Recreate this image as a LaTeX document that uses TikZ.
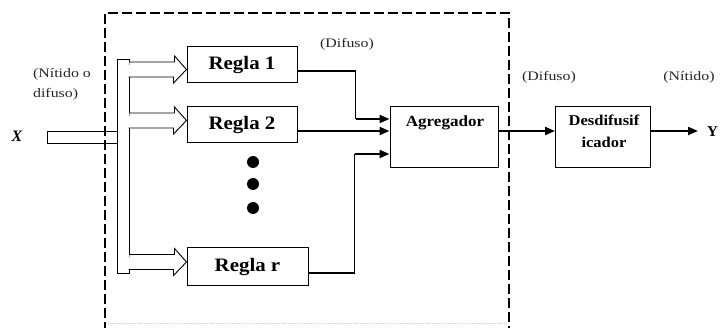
\documentclass[tikz,border=0pt]{standalone}
\usepackage{fontspec}
\setmainfont{Liberation Serif}
\newfontfamily\lblfont{Liberation Serif}[FakeStretch=1.22]
\newfontfamily\boxfont{Liberation Serif}[FakeStretch=1.1]
\usetikzlibrary{arrows.meta,calc}
\begin{document}
\begin{tikzpicture}[x=1pt,y=-1pt,
  box/.style={draw,line width=1pt,inner sep=0pt,fill=white},
  lbl/.style={font=\lblfont\fontsize{13}{20}\selectfont,inner sep=0pt,text=black!85},
  rulefont/.style={font=\boxfont\fontsize{19}{19}\selectfont\bfseries},
  thinline/.style={line width=1.1pt},
  thickline/.style={line width=2pt},
  tip/.style={-{Triangle[length=10pt,width=8pt]}},
  hol/.style={line width=0.9pt,line join=miter,fill=white},
  dot/.style={circle,fill,inner sep=0pt,minimum size=12pt},
  frame/.style={line width=2.5pt,dash pattern=on 10pt off 4pt}
  ]
\useasboundingbox (0,0) rectangle (720,328);

% input bar and bus
\node[box,minimum width=70pt,minimum height=12pt] (xin) at (82,138) {};
\node[box,line width=0.9pt,minimum width=12pt,minimum height=214pt] (bus) at (123,166) {};
\node[font=\fontsize{16}{16}\selectfont\bfseries\itshape,inner sep=0pt] (xl) at (17,136) {X};
\node[lbl,align=left] (nd) at (62,84) {(Nítido o\\difuso)};

% rule boxes
\node[box,rulefont,minimum width=110pt,minimum height=36pt] (r1) at (242,65) {Regla 1};
\node[box,rulefont,minimum width=110pt,minimum height=36pt] (r2) at (242,125) {Regla 2};
\node[box,rulefont,minimum width=121pt,minimum height=38pt] (rr) at (247.5,267) {Regla r};

% dots
\node[dot] (d1) at (253,162) {};
\node[dot] (d2) at (253,184) {};
\node[dot] (d3) at (253,208) {};

% hollow arrows from bus to rules
\foreach \n/\o in {r1/4.5, r2/-4.5, rr/-5}{
  \path (\n.west) ++(0,\o) coordinate (t\n);
  \draw[hol] (bus.east |- t\n) ++(0,-7.5) -- ++(45,0) -- ++(0,-6) -- (t\n)
     -- ++(-13,13.5) -- ++(0,-6) -- ++(-45,0);
}

% aggregator and defuzzifier
\node[box,minimum width=108pt,minimum height=61pt] (agg) at (444,137.5) {};
\node[font=\boxfont\fontsize{15.5}{15.5}\selectfont\bfseries,inner sep=0pt] (aggt) at (445,123) {Agregador};
\node[box,minimum width=95pt,minimum height=61pt] (des) at (603,137.5) {};
\node[font=\boxfont\fontsize{15}{22}\selectfont\bfseries,align=center,inner sep=0pt] (dest) at (604,131) {Desdifusif\\icador};

% connection points
\coordinate (a1) at ($(agg.west)+(0,-18.5)$);
\coordinate (a2) at ($(agg.west)+(0,-6.5)$);
\coordinate (a3) at ($(agg.west)+(0,16.5)$);
\coordinate (j1) at ($(a1)+(-34,0)$);
\coordinate (j3) at ($(a3)+(-35,0)$);

\draw[thinline] ($(r1.east)+(0,6)$) -| (j1);
\draw[thickline,tip] (j1) -- (a1);
\draw[thickline,tip] ($(r2.east)+(0,6)$) -- (a2);
\draw[thinline] ($(rr.east)+(0,6)$) -| (j3);
\draw[thickline,tip] (j3) -- (a3);

\node[font=\fontsize{15}{15}\selectfont\bfseries,anchor=west,inner sep=0pt] (yl) at (707,132) {Y};
\draw[thickline,tip] ($(agg.east)+(0,-6.5)$) -- ($(des.west)+(0,-6.5)$);
\draw[thickline,tip] ($(des.east)+(0,-6.5)$) -- ($(yl.west)+(-9,-1)$);

% labels
\node[lbl] (l1) at (347,44) {(Difuso)};
\node[lbl] (l2) at (549,77) {(Difuso)};
\node[lbl] (l3) at (689,77) {(Nítido)};

% dashed frame
\draw[frame] (105,332) -- (105,13) -- (509,13) -- (509,332);
\draw[gray!35,line width=0.8pt,densely dotted] (108,323) -- (506,323);
\end{tikzpicture}
\end{document}
